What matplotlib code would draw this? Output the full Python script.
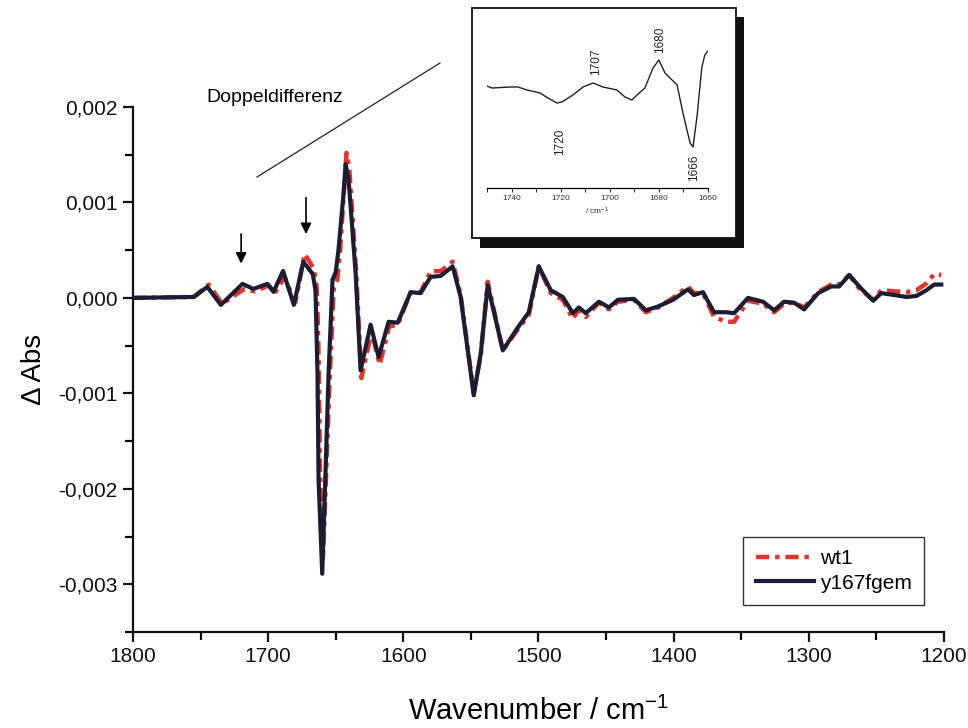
import matplotlib
matplotlib.use("Agg")
import matplotlib.pyplot as plt
import numpy as np
from matplotlib.patches import Rectangle
from matplotlib.lines import Line2D
from matplotlib.ticker import MultipleLocator, FuncFormatter

plt.rcParams['font.family'] = ['Liberation Sans', 'DejaVu Sans']
plt.rcParams['mathtext.fontset'] = 'custom'
plt.rcParams['mathtext.rm'] = 'Liberation Sans'
plt.rcParams['mathtext.default'] = 'regular'

# ---- data (values in 1e-3 Abs) ----
wn_y167 = [1800, 1755, 1745, 1735, 1719, 1711, 1700.5, 1696, 1689, 1681, 1674, 1667, 1665,
           1663.5, 1662.7, 1660, 1657.6, 1655.3, 1652.4, 1650, 1648, 1644.5, 1642.7, 1640.5, 1635.3,
           1631.6, 1624.2, 1618.3, 1610.9, 1604.2, 1594.6, 1587.2, 1579.8, 1572.4, 1563.5,
           1557.6, 1547.9, 1542.7, 1537.6, 1533.9, 1526.4, 1515.3, 1507.2, 1499.8, 1490.9,
           1482, 1474.6, 1470.1, 1465, 1455.3, 1447.9, 1441.3, 1429.4, 1420.5, 1411.6, 1400.5,
           1389.4, 1385, 1378.3, 1370.1, 1361.3, 1355.3, 1345, 1333.9, 1325.7, 1318.3, 1310.9,
           1303.5, 1293.1, 1283.5, 1277.6, 1270.1, 1262.7, 1252.4, 1246.4, 1236.8, 1227.9,
           1220.5, 1213.1, 1207.2, 1202]
abs_y167 = [0.0, 0.01, 0.115, -0.073, 0.147, 0.094, 0.147, 0.063, 0.283, -0.073, 0.378, 0.25, 0.08,
            -0.79, -1.91, -2.89, -1.84, -0.79, 0.19, 0.27, 0.50, 1.05, 1.40, 1.24, 0.26,
            -0.76, -0.28, -0.62, -0.25, -0.26, 0.06, 0.05, 0.22, 0.23, 0.33,
            0.01, -1.02, -0.58, 0.13, -0.09, -0.55, -0.31, -0.15, 0.33, 0.08,
            0.01, -0.16, -0.10, -0.16, -0.04, -0.10, -0.02, -0.01, -0.13, -0.09, -0.02,
            0.09, 0.03, 0.06, -0.15, -0.15, -0.16, 0.0, -0.04, -0.13, -0.04, -0.05,
            -0.12, 0.05, 0.12, 0.12, 0.24, 0.12, -0.03, 0.05, 0.03, 0.01,
            0.02, 0.08, 0.14, 0.14]

wn_wt1 = [1800, 1755, 1744, 1734, 1718, 1710, 1699.5, 1695, 1688, 1680, 1673, 1666, 1664,
          1662.5, 1661.7, 1659.5, 1657, 1654.5, 1651.5, 1649, 1647, 1644, 1642, 1640, 1635,
          1631, 1623.5, 1617.5, 1610.5, 1604, 1594.6, 1587.2, 1579.8, 1572.4, 1563.5,
          1557.6, 1547.9, 1542.7, 1537.6, 1533.9, 1526.4, 1515.3, 1507.2, 1499.8, 1490.9,
          1482, 1474.6, 1470.1, 1465, 1455.3, 1447.9, 1441.3, 1429.4, 1420.5, 1411.6, 1400.5,
          1389.4, 1385, 1378.3, 1370.1, 1361.3, 1355.3, 1345, 1333.9, 1325.7, 1318.3, 1310.9,
          1303.5, 1293.1, 1283.5, 1277.6, 1270.1, 1262.7, 1252.4, 1246.4, 1236.8, 1227.9,
          1220.5, 1213.1, 1207.2, 1202]
abs_wt1 = [0.0, 0.01, 0.14, -0.06, 0.09, 0.07, 0.13, 0.05, 0.22, -0.05, 0.46, 0.30, 0.10,
           -0.70, -1.80, -2.75, -1.80, -0.85, 0.10, 0.18, 0.45, 1.10, 1.52, 1.35, 0.30,
           -0.84, -0.35, -0.70, -0.30, -0.28, 0.06, 0.06, 0.28, 0.28, 0.38,
           0.03, -1.00, -0.60, 0.17, -0.07, -0.55, -0.33, -0.18, 0.33, 0.05,
           -0.02, -0.22, -0.12, -0.20, -0.05, -0.12, -0.04, -0.02, -0.15, -0.10, 0.0,
           0.12, 0.05, 0.05, -0.20, -0.25, -0.25, -0.03, -0.06, -0.15, -0.06, -0.05,
           -0.10, 0.06, 0.14, 0.14, 0.24, 0.10, -0.02, 0.08, 0.07, 0.06,
           0.08, 0.15, 0.25, 0.24]

# inset spectrum (arbitrary units)
wn_inset = [1750, 1748, 1740.6, 1737.4, 1733.7, 1728.4, 1725.2, 1721.5, 1719.5, 1715, 1710.9,
            1706.8, 1702.8, 1697.1, 1693.8, 1691, 1688.9, 1685.7, 1682.4, 1680, 1677.5,
            1672.6, 1670.2, 1667.3, 1666.1, 1664.5, 1662.5, 1661.3, 1660]
val_inset = [0.2, 0.0, 0.1, 0.1, -0.2, -0.5, -1.0, -1.5, -1.4, -0.7, 0.1,
             0.5, 0.1, -0.2, -0.9, -1.2, -0.7, 0.0, 2.0, 2.8, 1.5,
             0.3, -2.5, -5.5, -5.9, -2.9, 2.1, 3.3, 3.7]
inset_labels = ['1707', '1680', '1720', '1666']

arrow_wn = [1720, 1672]
legend_labels = ['wt1', 'y167fgem']

W, H = 968, 728
fig = plt.figure(figsize=(W / 100, H / 100), dpi=100)

def fx(px):
    return px / W

def fy(py):
    return 1 - py / H

ax = fig.add_axes([fx(133), fy(632), fx(944) - fx(133), fy(107) - fy(632)])
red = '#e0352b'
navy = '#1b1e33'
ax.plot(wn_wt1, np.array(abs_wt1) * 1e-3, color=red, lw=3.2,
        linestyle=(0, (3, 1.3, 1, 1.3)), label=legend_labels[0], zorder=2)
ax.plot(wn_y167, np.array(abs_y167) * 1e-3, color=navy, lw=3.0,
        label=legend_labels[1], zorder=3, solid_joinstyle='round')

ax.set_xlim(1800, 1200)
ax.set_ylim(-0.0035, 0.002)
ax.spines['top'].set_visible(False)
ax.spines['right'].set_visible(False)
for s in ('left', 'bottom'):
    ax.spines[s].set_linewidth(1.6)
    ax.spines[s].set_color('#111111')
ax.xaxis.set_major_locator(MultipleLocator(100))
ax.xaxis.set_minor_locator(MultipleLocator(50))
ax.yaxis.set_major_locator(MultipleLocator(0.001))
ax.yaxis.set_minor_locator(MultipleLocator(0.0005))
ax.yaxis.set_major_formatter(FuncFormatter(lambda v, p: f"{v:.3f}".replace('.', ',').replace('-0,000', '0,000')))
ax.tick_params(which='major', direction='out', length=7, width=1.6, labelsize=15, pad=4, colors='#111111')
ax.tick_params(which='minor', direction='out', length=6, width=1.6)
ax.set_xlabel('Wavenumber / cm$^{-1}$', fontsize=21, labelpad=22)
ax.set_ylabel('Δ Abs', fontsize=20, labelpad=8)

# arrows
ax.annotate('', xy=(arrow_wn[0], 0.00033), xytext=(arrow_wn[0], 0.00070),
            arrowprops=dict(arrowstyle='-|>', color='k', lw=1.2, mutation_scale=16))
ax.annotate('', xy=(arrow_wn[1], 0.00064), xytext=(arrow_wn[1], 0.00108),
            arrowprops=dict(arrowstyle='-|>', color='k', lw=1.2, mutation_scale=16))

leg = ax.legend(loc='upper left', bbox_to_anchor=(fx(743), fy(537)), bbox_transform=fig.transFigure,
                borderaxespad=0, fontsize=15, handlelength=2.8, handletextpad=0.3,
                labelspacing=0.25, fancybox=False, framealpha=1, edgecolor='#333333',
                borderpad=0.6)
leg.get_frame().set_linewidth(1.0)

# Doppeldifferenz text + line
fig.text(fx(275), fy(97), 'Doppeldifferenz', fontsize=14, ha='center', va='center')
fig.add_artist(Line2D([fx(257), fx(440)], [fy(177), fy(63)], color='#222222', lw=0.9,
                      transform=fig.transFigure))

# inset frame with shadow
fig.add_artist(Rectangle((fx(480), fy(248)), fx(744) - fx(480), fy(17) - fy(248),
                         transform=fig.transFigure, facecolor='#111111', edgecolor='none', zorder=5))
fig.add_artist(Rectangle((fx(472), fy(238)), fx(736) - fx(472), fy(8) - fy(238),
                         transform=fig.transFigure, facecolor='white', edgecolor='#111111',
                         lw=1.3, zorder=6))

ins = fig.add_axes([fx(487), fy(188), fx(708) - fx(487), fy(30) - fy(188)], zorder=7)
ins.patch.set_alpha(0)
ins.plot(wn_inset, val_inset, color='#222222', lw=1.0)
ins.set_xlim(1750, 1660)
ins.set_ylim(-10, 5.8)
for s in ('top', 'right', 'left'):
    ins.spines[s].set_visible(False)
ins.spines['bottom'].set_linewidth(0.9)
ins.set_yticks([])
ins.xaxis.set_major_locator(MultipleLocator(20))
ins.xaxis.set_minor_locator(MultipleLocator(10))
ins.tick_params(which='both', direction='out', length=3, width=0.8, labelsize=6, pad=2, colors='#333333')
ins.set_xlabel('/ cm$^{-1}$', fontsize=6, labelpad=3, color='#333333')

for lab, (px, py) in zip(inset_labels, [(596, 62), (660, 40), (560, 142), (694, 168)]):
    fig.text(fx(px), fy(py), lab, rotation=90, fontsize=8.5, ha='center', va='center',
             color='#222222', zorder=8)

fig.savefig('out.png', dpi=100)
